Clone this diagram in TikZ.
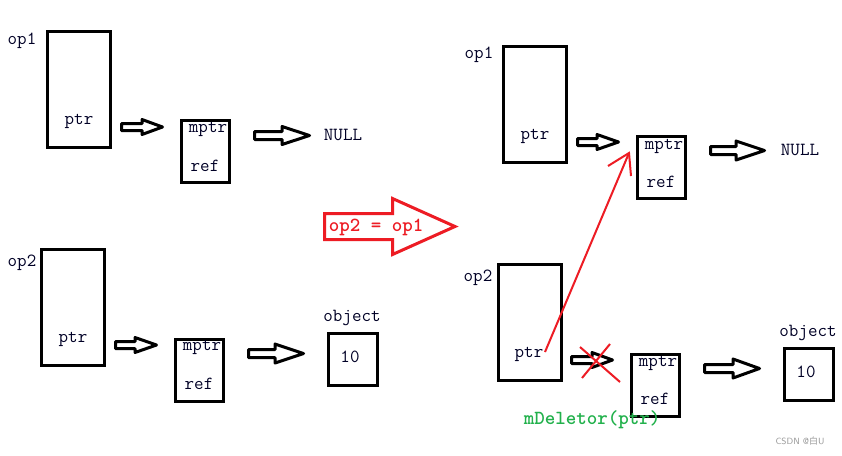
\documentclass[tikz,border=0pt]{standalone}
\usepackage{fontspec}
\newfontfamily\cjkfont{Noto Sans CJK SC}
\definecolor{pred}{HTML}{ED1C24}
\definecolor{pgreen}{HTML}{22B14C}
\tikzset{
  box/.style={draw=black, line width=3pt, inner sep=0pt},
  bigbox/.style={box, minimum width=63pt, minimum height=116pt},
  refbox/.style={box, minimum width=48pt, minimum height=62pt},
  objbox/.style={box, minimum width=49pt, minimum height=52pt},
  lbl/.style={inner sep=0pt, font=\ttfamily\fontsize{18.5}{20}\selectfont, text=black!85!blue},
  blk/.style={draw=black, line width=3pt, line join=round},
}
% #1 x start, #2 x head base, #3 x tip, #4 y centre, #5 shaft half, #6 head half
\newcommand\harrow[7][blk]{%
  \draw[#1] (#2,#5-#6) -- (#3,#5-#6) -- (#3,#5-#7) -- (#4,#5) -- (#3,#5+#7) -- (#3,#5+#6) -- (#2,#5+#6) -- cycle;}
\begin{document}
\begin{tikzpicture}[x=1pt,y=-1pt]
\useasboundingbox (0,0) rectangle (842,455);
\fill[white] (0,0) rectangle (842,455);
% left, top
\node[bigbox] (op1L) at (79,89.5) {};
\node[refbox] (r1L) at (205.5,151.5) {};
\node[lbl] (op1Lt) at (22,41) {op1};
\node[lbl] (p1L) at (79,121) {ptr};
\node[lbl] (m1L) at (208,129) {mptr};
\node[lbl] (f1L) at (205,166) {ref};
\node[lbl] (null1) at (343,135) {NULL};
\harrow{121.5}{142}{162.5}{127}{3.5}{7.5}
\harrow{254.5}{282}{309.5}{135.5}{4}{9}
% left, bottom
\node[bigbox] (op2L) at (73,307.5) {};
\node[refbox] (r2L) at (199.5,370) {};
\node[objbox] (objL) at (353,359.5) {};
\node[lbl] (op2Lt) at (22,263) {op2};
\node[lbl] (p2L) at (73,339) {ptr};
\node[lbl] (m2L) at (202,347) {mptr};
\node[lbl] (f2L) at (199,384) {ref};
\node[lbl] (objLt) at (352,318) {object};
\node[lbl] (tenL) at (350,357) {10};
\harrow{115.5}{135}{156.5}{345}{3.5}{7.5}
\harrow{248.5}{275}{303.5}{353.5}{4}{9.5}
% middle red arrow
\harrow[draw=pred, line width=3pt, line join=miter]{324.5}{392.5}{455}{226.5}{13}{28}
\node[inner sep=0pt, font=\ttfamily\bfseries\fontsize{20}{22}\selectfont, text=pred] (assign) at (376,227) {op2 = op1};
% right, top
\node[bigbox] (op1R) at (535,104.5) {};
\node[refbox] (r1R) at (661.5,167) {};
\node[lbl] (op1Rt) at (479,55) {op1};
\node[lbl] (p1R) at (535,136) {ptr};
\node[lbl] (m1R) at (664,146) {mptr};
\node[lbl] (f1R) at (661,182) {ref};
\node[lbl] (null2) at (800,150) {NULL};
\harrow{577.5}{597}{618.5}{142}{3.5}{7.5}
\harrow{710.5}{736}{764.5}{150.5}{4}{9.5}
% right, bottom
\node[bigbox] (op2R) at (529.5,322.5) {};
\node[refbox] (r2R) at (655.5,385) {};
\node[objbox] (objR) at (809,374.5) {};
\node[lbl] (op2Rt) at (478,278) {op2};
\node[lbl] (p2R) at (529,354) {ptr};
\node[lbl] (m2R) at (658,363) {mptr};
\node[lbl] (f2R) at (655,399) {ref};
\node[lbl] (objRt) at (808,333) {object};
\node[lbl] (tenR) at (806,372) {10};
\harrow{571.5}{592}{612.5}{360}{3.5}{7.5}
\harrow{704.5}{733}{759.5}{368.5}{4}{9.5}
% red re-pointing line
\coordinate (tail) at (545,352);
\coordinate (tip) at (629,153);
\draw[pred, line width=2pt] (tail) -- (tip);
\draw[pred, line width=2pt, line join=miter] (608,166) -- (tip) -- (631,176);
% red cross
\draw[pred, line width=2pt] (580,347) -- (620,382);
\draw[pred, line width=2pt] (610,344) -- (582,378);
% green label
\node[inner sep=0pt, font=\ttfamily\bfseries\fontsize{20}{22}\selectfont, text=pgreen] (del) at (592,420) {mDeletor(ptr)};
% watermark
\node[inner sep=0pt, font=\sffamily\fontsize{9}{10}\selectfont, text=black!40] (wm) at (800,441) {CSDN @{\cjkfont 白}U};
\end{tikzpicture}
\end{document}
